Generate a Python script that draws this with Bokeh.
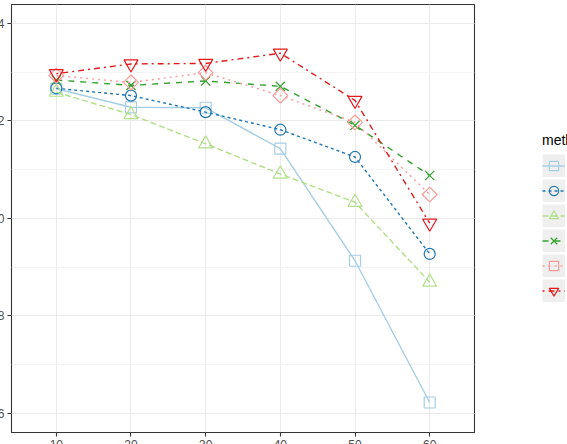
from bokeh.plotting import figure
from bokeh.models import FactorRange, Range1d, SingleIntervalTicker, Legend, LegendItem, NumeralTickFormatter
from bokeh.layouts import row
from bokeh.embed import file_html
from bokeh.resources import INLINE

# ---- data ----
groups = ["10", "20", "30", "40", "50", "60"]
methods = ["M1", "M2", "M3", "M4", "M5", "M6"]
y_ticks_interval = 0.2

s_square = [1.266, 1.228, 1.227, 1.143, 0.913, 0.622]
s_circle = [1.267, 1.252, 1.218, 1.182, 1.126, 0.927]
s_triangle = [1.259, 1.213, 1.153, 1.091, 1.033, 0.869]
s_x = [1.284, 1.273, 1.282, 1.271, 1.191, 1.088]
s_diamond = [1.293, 1.279, 1.299, 1.252, 1.197, 1.049]
s_invtri = [1.297, 1.317, 1.318, 1.339, 1.242, 0.990]

series = [s_square, s_circle, s_triangle, s_x, s_diamond, s_invtri]

# ---- styles ----
colors = ["#A6CEE3", "#1F78B4", "#B2DF8A", "#33A02C", "#FB9A99", "#E31A1C"]
markers = ["square", "circle", "triangle", "x", "square", "inverted_triangle"]
angles = [0, 0, 0, 0, 0.785398, 0]
sizes = [11, 11, 14, 13, 10.5, 14]
dashes = ["solid", "3 3", "6 3", "6 6", "2 4", "2 4 6 4"]

FONT = "Liberation Sans"

# ---------- main panel ----------
p = figure(
    x_range=FactorRange(factors=groups, range_padding=0.1, range_padding_units="absolute"),
    y_range=Range1d(0.5604, 1.439),
    frame_width=463, frame_height=428,
    min_border_left=40, min_border_top=4, min_border_bottom=40, min_border_right=10,
    output_backend="svg", toolbar_location=None,
)
p.background_fill_color = "white"
p.border_fill_color = "white"
p.outline_line_color = "#333333"
p.outline_line_width = 1.1

p.yaxis.ticker = SingleIntervalTicker(interval=y_ticks_interval, num_minor_ticks=2)
p.yaxis.formatter = NumeralTickFormatter(format="0.0")
for ax in (p.xaxis, p.yaxis):
    ax.axis_line_color = None
    ax.major_tick_out = 4
    ax.major_tick_in = 0
    ax.major_tick_line_color = "#333333"
    ax.major_tick_line_width = 1.1
    ax.minor_tick_line_color = None
    ax.major_label_text_font = FONT
    ax.major_label_text_font_size = "12px"
    ax.major_label_text_color = "#4D4D4D"
    ax.major_label_standoff = 3

p.xgrid.grid_line_color = "#EBEBEB"
p.xgrid.grid_line_width = 1.1
p.ygrid.grid_line_color = "#EBEBEB"
p.ygrid.grid_line_width = 1.1
p.ygrid.minor_grid_line_color = "#F4F4F4"
p.ygrid.minor_grid_line_width = 1

for i, vals in enumerate(series):
    p.line(x=groups, y=vals, line_color=colors[i], line_width=1.4, line_dash=dashes[i])
    p.scatter(x=groups, y=vals, marker=markers[i], size=sizes[i], angle=angles[i],
              line_color=colors[i], fill_color=None, line_width=1.2)

# ---------- legend area (its ranges keep the key renderers out of view) ----------
lg = figure(
    width=140, height=472,
    x_range=FactorRange(factors=groups),
    y_range=Range1d(10, 11),
    min_border_left=0, min_border_right=0, min_border_top=0, min_border_bottom=0,
    x_axis_location=None, y_axis_location=None,
    output_backend="svg", toolbar_location=None,
)
lg.xgrid.visible = False
lg.ygrid.visible = False
lg.outline_line_color = None
lg.background_fill_color = "white"
lg.border_fill_color = "white"

items = []
for i, vals in enumerate(series):
    bg = lg.line(x=groups, y=vals, line_width=23, line_color="#EFEFEF")
    ln = lg.line(x=groups, y=vals, line_color=colors[i], line_width=1.4, line_dash=dashes[i])
    sc = lg.scatter(x=groups, y=vals, marker=markers[i], size=sizes[i], angle=angles[i],
                    line_color=colors[i], fill_color=None, line_width=1.2)
    items.append(LegendItem(label=methods[i], renderers=[bg, ln, sc]))

legend = Legend(
    items=items, location=(58, 130), title="method",
    title_text_font=FONT, title_text_font_size="14px", title_text_font_style="normal",
    title_text_color="black", title_standoff=6,
    label_text_font=FONT, label_text_font_size="12px", label_text_color="black",
    glyph_width=23, glyph_height=23, spacing=2, padding=0, margin=0,
    label_standoff=5, border_line_color=None, background_fill_alpha=0,
)
lg.add_layout(legend, "center")

page = row(p, lg)
page.styles = {"transform": "translateX(-29px)"}

open("out.html", "w").write(file_html(page, INLINE))
